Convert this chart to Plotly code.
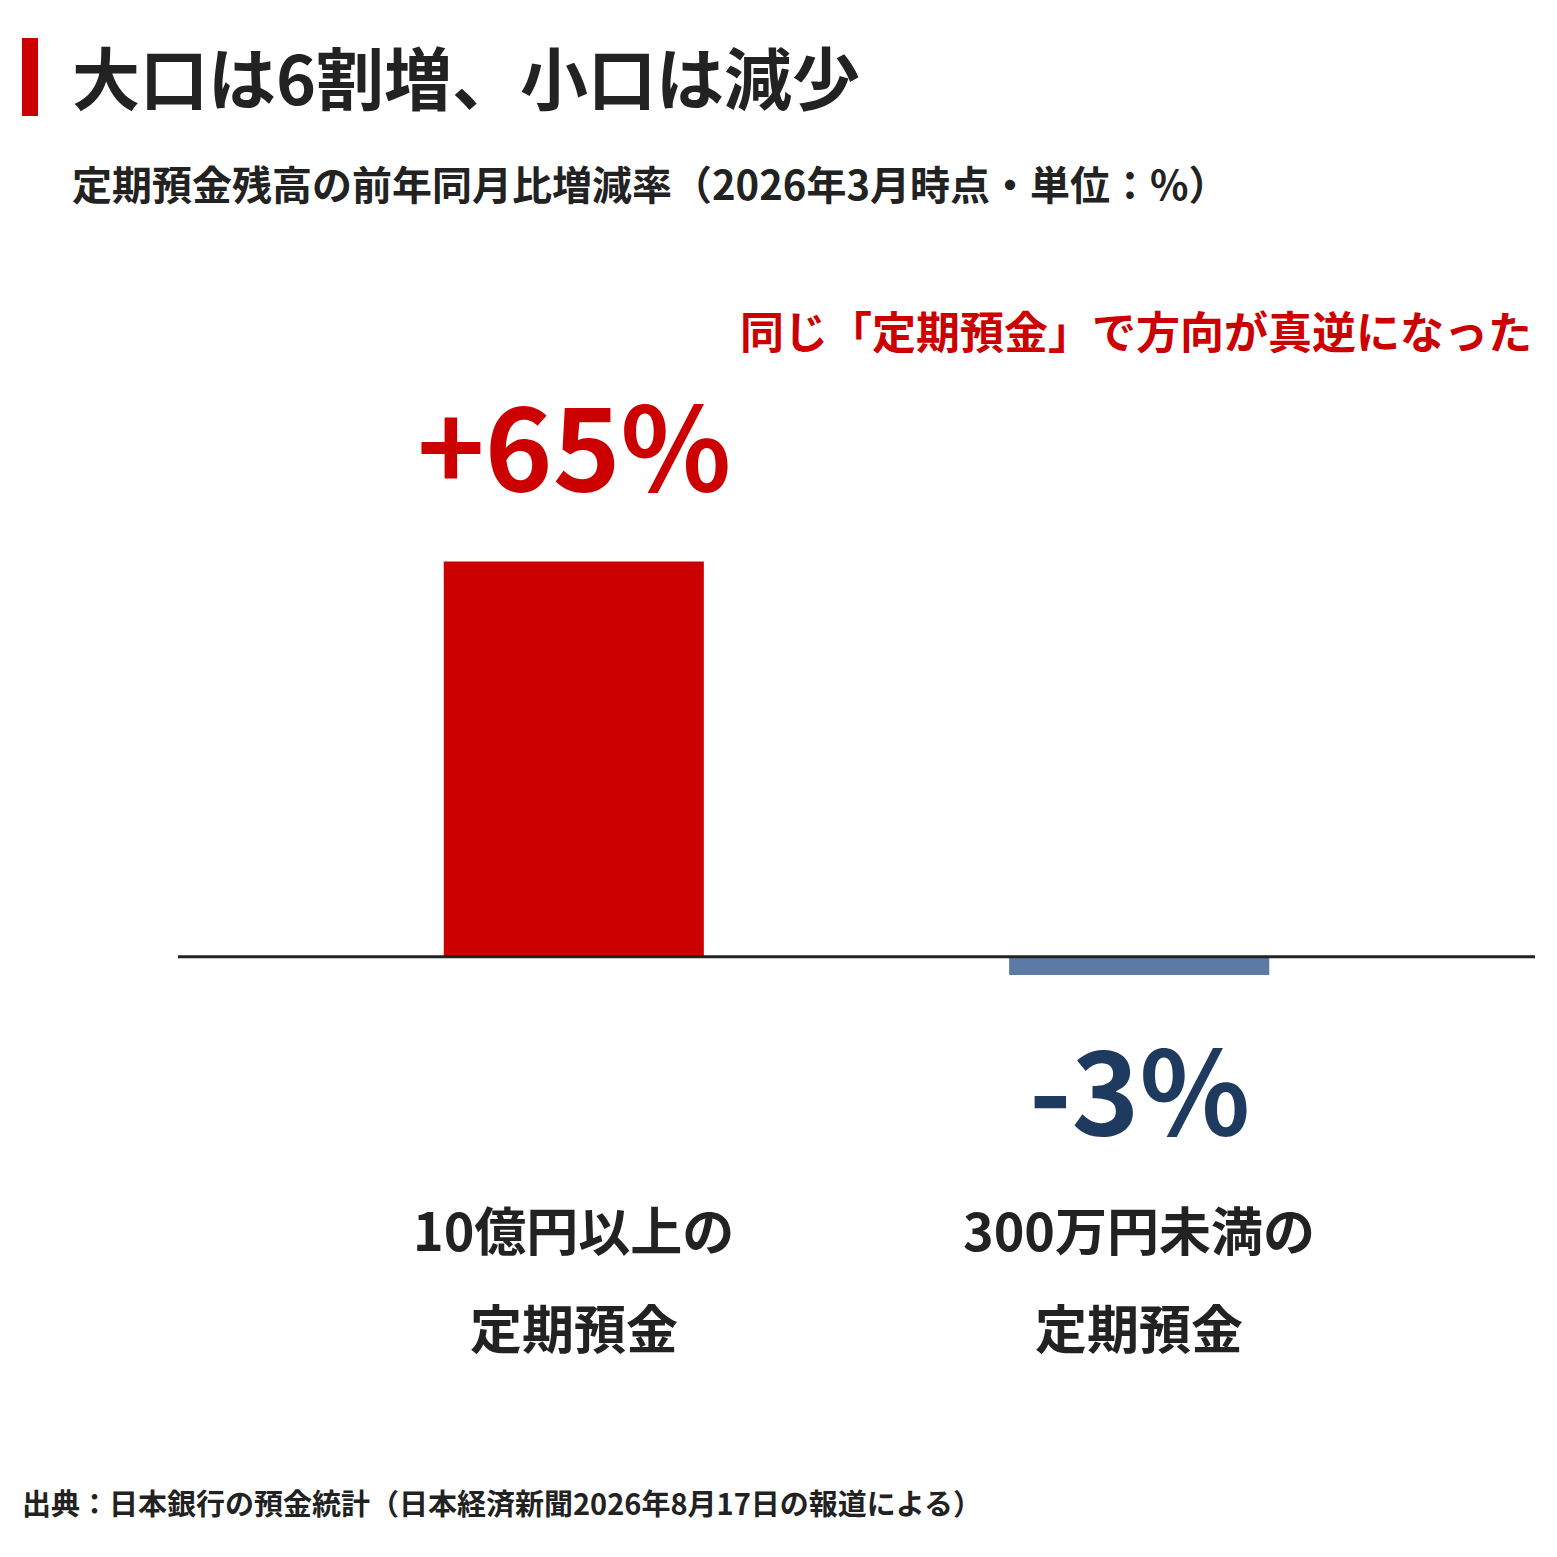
import plotly.graph_objects as go

categories_line1 = ["10億円以上の", "300万円未満の"]
categories_line2 = ["定期預金", "定期預金"]
values = [65, -3]
value_labels = ["+65%", "-3%"]
bar_colors = ["#cc0000", "#5b7ba6"]
label_colors = ["#cc0000", "#1f3a5f"]

W = H = 1557
OFF = 8  # page offset
F = "Noto Sans CJK JP"
L, R, T, B = 178 - OFF, 22 + OFF, 300 - OFF, 357 + OFF
PW, PH = W - L - R, H - T - B

def px(x):
    return (x - OFF - L) / PW

def py(y):
    return (H - (y - OFF) - B) / PH

fig = go.Figure(go.Bar(x=[0, 1], y=values, width=0.46, marker_color=bar_colors, marker_line_width=0))
fig.update_layout(
    width=W, height=H, paper_bgcolor="white", plot_bgcolor="white",
    margin=dict(l=L, r=R, t=T, b=B), showlegend=False,
    font=dict(family=F, color="#222"),
    xaxis=dict(range=[-0.70, 1.70], visible=False),
    yaxis=dict(range=[-40, 108], visible=False),
)
fig.add_shape(type="line", xref="paper", yref="y", x0=0, x1=1, y0=0, y1=0,
              line=dict(color="#222", width=3))
ann = []
for i, (v, t, c) in enumerate(zip(values, value_labels, label_colors)):
    ann.append(dict(x=i, y=v, xref="x", yref="y", text=f"<b>{t}</b>", showarrow=False,
                    yanchor="bottom" if v > 0 else "top", yshift=35 if v > 0 else -25,
                    font=dict(size=115, color=c, family=F)))
    ann.append(dict(x=i, y=py(1228), xref="x", yref="paper", text=f"<b>{categories_line1[i]}</b>",
                    showarrow=False, yanchor="middle", font=dict(size=52, color="#222", family=F)))
    ann.append(dict(x=i, y=py(1326), xref="x", yref="paper", text=f"<b>{categories_line2[i]}</b>",
                    showarrow=False, yanchor="middle", font=dict(size=52, color="#222", family=F)))
ann += [
    dict(x=px(70), y=py(75), xref="paper", yref="paper", text="<b>大口は6割増、小口は減少</b>",
         showarrow=False, xanchor="left", yanchor="middle", font=dict(size=68, color="#222", family=F)),
    dict(x=px(70), y=py(183), xref="paper", yref="paper",
         text="<b>定期預金残高の前年同月比増減率（2026年3月時点・単位：%）</b>",
         showarrow=False, xanchor="left", yanchor="middle", font=dict(size=40, color="#222", family=F)),
    dict(x=px(1534), y=py(330), xref="paper", yref="paper",
         text="<b>同じ「定期預金」で方向が真逆になった</b>",
         showarrow=False, xanchor="right", yanchor="middle", font=dict(size=44, color="#cc0000", family=F)),
    dict(x=px(20), y=py(1502), xref="paper", yref="paper",
         text="<b>出典：日本銀行の預金統計（日本経済新聞2026年8月17日の報道による）</b>",
         showarrow=False, xanchor="left", yanchor="middle", font=dict(size=29, color="#222", family=F)),
]
fig.update_layout(annotations=ann)
fig.add_shape(type="rect", xref="paper", yref="paper",
              x0=px(22), x1=px(38), y0=py(116), y1=py(38),
              fillcolor="#cc0000", line_width=0)
fig.write_html("out.html")
